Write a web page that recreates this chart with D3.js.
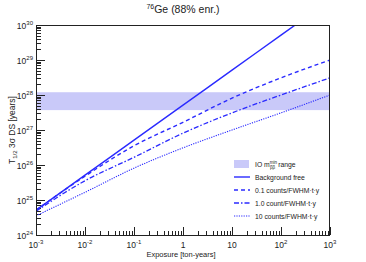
<!DOCTYPE html>
<html><head>
<meta charset="utf-8"/>
<script src="https://d3js.org/d3.v7.min.js"></script>
<style>
  body { margin: 0; padding: 0; width: 366px; height: 262px; background: #fff; font-family: 'Liberation Sans', Arial, sans-serif; }
  svg text { fill: #222; }
</style>
</head>
<body>
<div id="chart"></div>
<script>
// exposure [ton-years] sampled once per decade
const exposure = [1e-3, 1e-2, 1e-1, 1, 10, 100, 1000];
// half-life 3 sigma discovery sensitivity [years]
const bkgFree   = [5.13e24, 5.13e25, 5.13e26, 5.13e27, 5.13e28, 5.13e29, 5.13e30];
const bkg01     = [5.13e24, 4.79e25, 3.55e26, 1.66e27, 8.13e27, 3.09e28, 1.0e29];
const bkg10     = [4.79e24, 3.55e25, 1.66e26, 8.13e26, 3.09e27, 1.0e28, 3.09e28];
const bkg100    = [3.55e24, 1.66e25, 8.13e25, 3.09e26, 1.0e27, 3.09e27, 1.0e28];
// IO m_bb^min band
const ioBand = [3.7e27, 1.2e28];

const xTicks = [1e-3, 1e-2, 1e-1, 1, 10, 100, 1000];
const xTickExp = ["-3", "-2", "-1", null, null, "2", "3"];
const yTicks = [1e24, 1e25, 1e26, 1e27, 1e28, 1e29, 1e30];
const yTickExp = ["24", "25", "26", "27", "28", "29", "30"];

const W = 366, H = 262;
const L = 36, R = 330, T = 25, B = 235;
const blue = "#2a2aff";

const svg = d3.select("#chart").append("svg")
    .attr("width", W).attr("height", H);

const x = d3.scaleLog().domain([1e-3, 1e3]).range([L, R]);
const y = d3.scaleLog().domain([1e24, 1e30]).range([B, T]);

svg.append("clipPath").attr("id", "clip")
    .append("rect").attr("x", L).attr("y", T).attr("width", R - L).attr("height", B - T);

// band
svg.append("rect")
    .attr("x", L).attr("width", R - L)
    .attr("y", y(ioBand[1])).attr("height", y(ioBand[0]) - y(ioBand[1]))
    .attr("fill", "#c9c9f9");

// minor + major ticks
const g = svg.append("g").attr("stroke", "#222").attr("stroke-width", 1);
for (let e = -3; e < 3; e++) {
    for (let k = 2; k <= 9; k++) {
        const px = Math.round(x(k * Math.pow(10, e))) + 0.5;
        g.append("line").attr("x1", px).attr("x2", px).attr("y1", B).attr("y2", B - 4);
    }
}
xTicks.forEach(v => {
    const px = Math.round(x(v)) + 0.5;
    g.append("line").attr("x1", px).attr("x2", px).attr("y1", B).attr("y2", B - 8);
});
for (let e = 24; e < 30; e++) {
    for (let k = 2; k <= 9; k++) {
        const py = Math.round(y(k * Math.pow(10, e))) + 0.5;
        g.append("line").attr("x1", L).attr("x2", L + 5).attr("y1", py).attr("y2", py);
    }
}
yTicks.forEach(v => {
    const py = Math.round(y(v)) + 0.5;
    g.append("line").attr("x1", L).attr("x2", L + 9).attr("y1", py).attr("y2", py);
});

// curves
const line = d3.line()
    .x((d, i) => x(exposure[i]))
    .y(d => y(d))
    .curve(d3.curveMonotoneX);

const series = [
    { data: bkgFree, dash: null, w: 1.4 },
    { data: bkg01, dash: "4,3", w: 1.4 },
    { data: bkg10, dash: "5,2,1.5,2", w: 1.3 },
    { data: bkg100, dash: "1.2,1.2", w: 1.1 }
];
const curves = svg.append("g").attr("clip-path", "url(#clip)");
series.forEach(s => {
    curves.append("path")
        .attr("d", line(s.data))
        .attr("fill", "none")
        .attr("stroke", blue)
        .attr("stroke-width", s.w)
        .attr("stroke-dasharray", s.dash);
});

// frame
svg.append("rect").attr("x", L + 0.5).attr("y", T + 0.5)
    .attr("width", R - L - 1).attr("height", B - T)
    .attr("fill", "none").attr("stroke", "#222").attr("stroke-width", 1);

// y tick labels
yTicks.forEach((v, i) => {
    const t = svg.append("text")
        .attr("x", 33).attr("y", y(v) + 4)
        .attr("text-anchor", "end")
        .style("font-size", "8.5px");
    t.append("tspan").text("10");
    t.append("tspan").attr("dy", -4).style("font-size", "6px").text(yTickExp[i]);
});

// x tick labels
xTicks.forEach((v, i) => {
    const t = svg.append("text")
        .attr("x", x(v)).attr("y", 248)
        .attr("text-anchor", "middle")
        .style("font-size", "8.5px");
    if (xTickExp[i] === null) {
        t.text(v === 1 ? "1" : "10");
    } else {
        t.append("tspan").text("10");
        t.append("tspan").attr("dy", -4).style("font-size", "6px").text(xTickExp[i]);
    }
});

// title
const title = svg.append("text").attr("x", 183).attr("y", 13)
    .attr("text-anchor", "middle").style("font-size", "10.5px");
title.append("tspan").attr("dy", -4).style("font-size", "7px").text("76");
title.append("tspan").attr("dy", 4).text("Ge (88% enr.)");

// axis titles
svg.append("text").attr("x", 181).attr("y", 257)
    .attr("text-anchor", "middle").style("font-size", "7.5px")
    .text("Exposure [ton-years]");

const yt = svg.append("text")
    .attr("transform", "translate(15,130) rotate(-90)")
    .attr("text-anchor", "middle").style("font-size", "8.5px");
yt.append("tspan").text("T");
yt.append("tspan").attr("dy", 2).style("font-size", "6px").text("1/2");
yt.append("tspan").attr("dy", -2).text(" 3σ DS [years]");

// legend
const lg = svg.append("g").style("font-size", "6.8px");
lg.append("rect").attr("x", 234).attr("y", 160).attr("width", 15).attr("height", 8).attr("fill", "#c9c9f9");
const io = lg.append("text").attr("x", 255).attr("y", 166.5);
io.append("tspan").text("IO m");
io.append("tspan").attr("dy", -2.5).style("font-size", "4.5px").text("min");
io.append("tspan").attr("dx", -7).attr("dy", 5).style("font-size", "4.5px").text("ββ");
io.append("tspan").attr("dx", 3).attr("dy", -2.5).text("range");

const entries = [
    { label: "Background free", s: series[0], yy: 177 },
    { label: "0.1 counts/FWHM·t·y", s: series[1], yy: 190 },
    { label: "1.0 count/FWHM·t·y", s: series[2], yy: 203 },
    { label: "10 counts/FWHM·t·y", s: series[3], yy: 216 }
];
entries.forEach(en => {
    lg.append("line").attr("x1", 234).attr("x2", 250).attr("y1", en.yy).attr("y2", en.yy)
        .attr("stroke", blue).attr("stroke-width", en.s.w).attr("stroke-dasharray", en.s.dash);
    lg.append("text").attr("x", 255).attr("y", en.yy + 2.5).text(en.label);
});
</script>
</body></html>
